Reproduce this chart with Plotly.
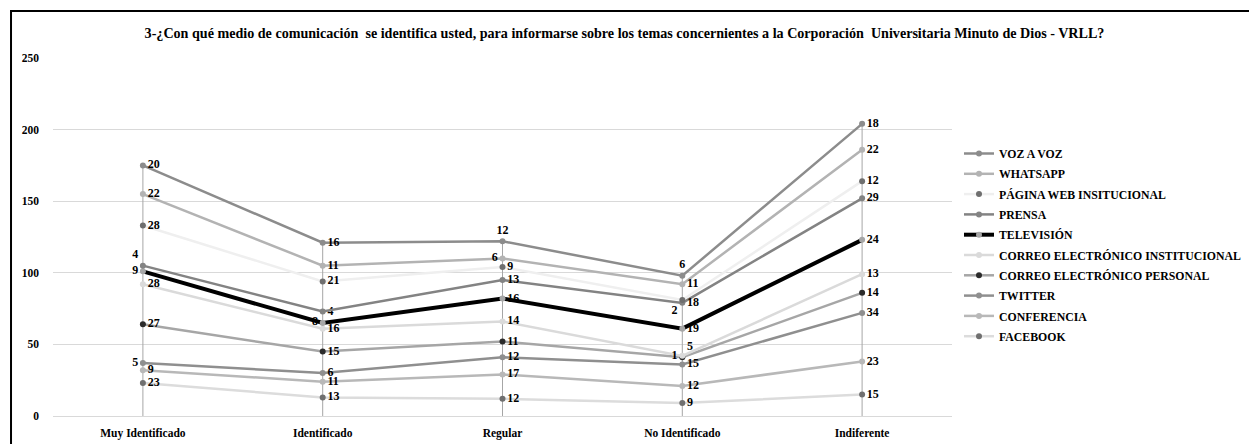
import numpy as np
import plotly.graph_objects as go

categories = ["Muy Identificado", "Identificado", "Regular", "No Identificado", "Indiferente"]

# series listed from bottom of the stack to the top
facebook = [23, 13, 12, 9, 15]
conferencia = [9, 11, 17, 12, 23]
twitter = [5, 6, 12, 15, 34]
correo_personal = [27, 15, 11, 5, 14]
correo_institucional = [28, 16, 14, 1, 13]
television = [9, 4, 16, 19, 24]
prensa = [4, 8, 13, 18, 29]
pagina_web = [28, 21, 9, 2, 12]
whatsapp = [22, 11, 6, 11, 22]
voz_a_voz = [20, 16, 12, 6, 18]

series_names = ["FACEBOOK", "CONFERENCIA", "TWITTER", "CORREO ELECTRÓNICO PERSONAL",
                "CORREO ELECTRÓNICO INSTITUCIONAL", "TELEVISIÓN", "PRENSA",
                "PÁGINA WEB INSITUCIONAL", "WHATSAPP", "VOZ A VOZ"]
series_values = [facebook, conferencia, twitter, correo_personal, correo_institucional,
                 television, prensa, pagina_web, whatsapp, voz_a_voz]

title = ("3-¿Con qué medio de comunicación  se identifica usted, para informarse sobre los temas "
         "concernientes a la Corporación  Universitaria Minuto de Dios - VRLL?")

# styles
line_colors = ["#dcdcdc", "#b8b8b8", "#8f8f8f", "#a6a6a6", "#dadada", "#000000",
               "#838383", "#efefef", "#b3b3b3", "#8c8c8c"]
marker_colors = ["#6f6f6f", "#b8b8b8", "#8f8f8f", "#2b2b2b", "#dadada", "#a6a6a6",
                 "#838383", "#6f6f6f", "#b3b3b3", "#8c8c8c"]
line_widths = [2.5, 2.5, 2.5, 2.5, 2.5, 4, 2.5, 2.5, 2.5, 2.5]
R = "middle right"
text_positions = [
    [R, R, R, R, R],
    [R, R, R, R, R],
    ["middle left", R, R, R, R],
    [R, R, R, "top right", R],
    [R, R, R, "middle left", R],
    ["middle left", "top right", R, R, R],
    ["top left", "bottom left", R, R, R],
    [R, R, R, "bottom left", R],
    [R, R, "middle left", R, R],
    [R, R, "top center", "top center", R],
]

FONT = "Liberation Serif"
cum = np.cumsum(np.array(series_values), axis=0)
totals = cum[-1]
n_series = len(series_names)

fig = go.Figure()

# drop lines from the top of the stack to the axis
for c, t in zip(categories, totals):
    fig.add_trace(go.Scatter(x=[c, c], y=[0, t], mode="lines",
                             line=dict(color="#a6a6a6", width=1),
                             showlegend=False, hoverinfo="skip"))

for i, name in enumerate(series_names):
    fig.add_trace(go.Scatter(
        x=categories, y=cum[i], name=name, legendgroup=name,
        legendrank=n_series - i, mode="lines+markers+text",
        text=[str(v) for v in series_values[i]],
        textposition=text_positions[i],
        textfont=dict(family=FONT, size=12, color="#000000", weight="bold"),
        line=dict(color=line_colors[i], width=line_widths[i]),
        marker=dict(color=marker_colors[i], size=6, symbol="circle"),
    ))

fig.update_layout(
    width=1249, height=444,
    margin=dict(l=53, r=297, t=58, b=28),
    paper_bgcolor="white", plot_bgcolor="white",
    font=dict(family=FONT, size=11, color="#000000"),
    title=dict(text="<b>" + title + "</b>", x=0.5, xref="container", xanchor="center",
               y=1 - 33 / 444, yref="container", yanchor="middle", automargin=False,
               font=dict(family=FONT, size=14.1, color="#000000")),
    showlegend=True,
    legend=dict(xref="container", yref="container", x=959 / 1249, y=1 - 139 / 444,
                xanchor="left", yanchor="top",
                traceorder="grouped", tracegroupgap=1.3,
                font=dict(family=FONT, size=11.8, color="#000000", weight="bold"),
                bgcolor="rgba(0,0,0,0)", itemwidth=30, borderwidth=0),
    xaxis=dict(type="category", range=[-0.5, 4.5], showgrid=False, showline=False,
               zeroline=False, ticks="", ticklabelstandoff=8, automargin=False,
               tickfont=dict(family=FONT, size=11.5, color="#000000", weight="bold")),
    yaxis=dict(range=[0, 250], dtick=50, showgrid=True, gridcolor="#d9d9d9", gridwidth=1,
               zeroline=True, zerolinecolor="#d9d9d9", zerolinewidth=1, automargin=False,
               showline=False, ticks="", ticklabelstandoff=13,
               tickfont=dict(family=FONT, size=11.5, color="#000000", weight="bold")),
    shapes=[dict(type="rect", xref="paper", yref="paper",
                 x0=-0.0467, x1=1.35, y0=-0.13, y1=1.1314,
                 line=dict(color="#000000", width=2), fillcolor="rgba(0,0,0,0)",
                 layer="above")],
)

fig.write_html("out.html", config={"displayModeBar": False},
               post_script="document.body.style.margin='0';")
